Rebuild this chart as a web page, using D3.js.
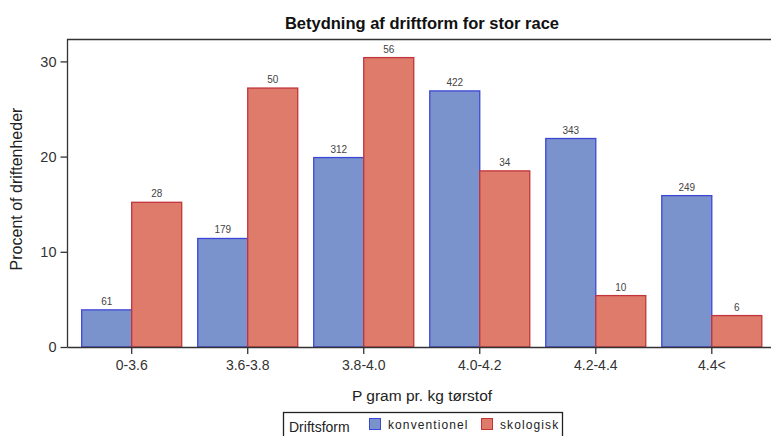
<!DOCTYPE html>
<html>
<head>
<meta charset="utf-8">
<script src="https://cdn.jsdelivr.net/npm/d3@7"></script>
<style>
  html, body { margin: 0; padding: 0; background: #fff; }
  svg { display: block; font-family: "Liberation Sans", Arial, sans-serif; }
</style>
</head>
<body>
<svg id="chart" width="771" height="436"></svg>
<script>
// P-klasser (gram pr. kg tørstof)
const categories = ["0-3.6", "3.6-3.8", "3.8-4.0", "4.0-4.2", "4.2-4.4", "4.4<"];
const seriesNames = ["konventionel", "skologisk"];
// Procent af driftenheder
const konventionelPct = [3.9, 11.4, 19.9, 26.9, 21.9, 15.9];
const okologiskPct = [15.2, 27.2, 30.4, 18.5, 5.4, 3.3];
// Antal driftenheder (etiketter over søjlerne)
const konventionelN = [61, 179, 312, 422, 343, 249];
const okologiskN = [28, 50, 56, 34, 10, 6];
const yTicks = [0, 10, 20, 30];

const colors = {
  konventionel: { fill: "#7b93cc", stroke: "#3d47d6" },
  skologisk: { fill: "#df7b6b", stroke: "#c1343c" }
};

const rows = [];
categories.forEach((c, i) => {
  rows.push({ cat: c, series: "konventionel", pct: konventionelPct[i], n: konventionelN[i] });
  rows.push({ cat: c, series: "skologisk", pct: okologiskPct[i], n: okologiskN[i] });
});

const svg = d3.select("#chart");
const m = { left: 67.5, right: 776, top: 39.5, bottom: 347 };

const x = d3.scaleBand().domain(categories).range([m.left, m.right]).paddingInner(0.138).paddingOuter(0.1224);
const xs = d3.scaleBand().domain(seriesNames).range([0, x.bandwidth()]);
const y = d3.scaleLinear().domain([0, 32.3]).range([m.bottom, m.top]);

// Plot frame (top and left edges)
svg.append("path")
  .attr("d", `M${m.left},${m.bottom} V${m.top} H${m.right}`)
  .attr("fill", "none").attr("stroke", "#333").attr("stroke-width", 1.3);

// Bars
svg.append("g").selectAll("rect").data(rows).join("rect")
  .attr("x", d => x(d.cat) + xs(d.series))
  .attr("y", d => y(d.pct))
  .attr("width", xs.bandwidth())
  .attr("height", d => y(0) - y(d.pct))
  .attr("fill", d => colors[d.series].fill)
  .attr("stroke", d => colors[d.series].stroke)
  .attr("stroke-width", 1.3);

// Count labels
svg.append("g").selectAll("text").data(rows).join("text")
  .attr("x", d => x(d.cat) + xs(d.series) + xs.bandwidth() / 2)
  .attr("y", d => y(d.pct) - 5)
  .attr("text-anchor", "middle")
  .attr("font-size", 10)
  .attr("fill", "#444")
  .text(d => d.n);

// Y axis
const yAxis = svg.append("g")
  .attr("transform", `translate(${m.left},0)`)
  .call(d3.axisLeft(y).tickValues(yTicks).tickSize(7).tickPadding(4).tickFormat(d3.format("d")));
yAxis.select(".domain").remove();
yAxis.selectAll("line").attr("stroke", "#333").attr("stroke-width", 1.3);
yAxis.selectAll("text").attr("font-size", 14.5).attr("fill", "#333").attr("font-family", "Liberation Sans, Arial, sans-serif");

// X axis
const xAxis = svg.append("g")
  .attr("transform", `translate(0,${m.bottom})`)
  .call(d3.axisBottom(x).tickSize(7).tickPadding(6));
xAxis.select(".domain").attr("d", `M${m.left},0.5 H${m.right}`).attr("stroke", "#333").attr("stroke-width", 1.5);
xAxis.selectAll("line").attr("stroke", "#333").attr("stroke-width", 1.3);
xAxis.selectAll("text").attr("font-size", 14).attr("fill", "#333").attr("font-family", "Liberation Sans, Arial, sans-serif");

// Title
svg.append("text")
  .attr("x", 422).attr("y", 29)
  .attr("text-anchor", "middle")
  .attr("font-size", 16.5).attr("font-weight", "bold").attr("fill", "#111")
  .text("Betydning af driftform for stor race");

// Axis titles
svg.append("text")
  .attr("transform", "translate(22,189) rotate(-90)")
  .attr("text-anchor", "middle")
  .attr("font-size", 16).attr("fill", "#222")
  .text("Procent of driftenheder");

svg.append("text")
  .attr("x", 422).attr("y", 401)
  .attr("text-anchor", "middle")
  .attr("font-size", 15.5).attr("fill", "#222")
  .text("P gram pr. kg tørstof");

// Legend
const lg = svg.append("g");
lg.append("rect")
  .attr("x", 283.5).attr("y", 412.5).attr("width", 279).attr("height", 40)
  .attr("fill", "#fff").attr("stroke", "#222").attr("stroke-width", 1.3);
lg.append("text").attr("x", 289).attr("y", 432)
  .attr("font-size", 14).attr("fill", "#222").text("Driftsform");
const legendPos = [{ s: "konventionel", x: 369 }, { s: "skologisk", x: 481 }];
legendPos.forEach(p => {
  lg.append("rect").attr("x", p.x + 0.5).attr("y", 418.5).attr("width", 11).attr("height", 11)
    .attr("fill", colors[p.s].fill).attr("stroke", colors[p.s].stroke).attr("stroke-width", 1);
  lg.append("text").attr("x", p.x + 19).attr("y", 429)
    .attr("font-size", 12).attr("letter-spacing", 1.1).attr("fill", "#222").text(p.s);
});
</script>
</body>
</html>
